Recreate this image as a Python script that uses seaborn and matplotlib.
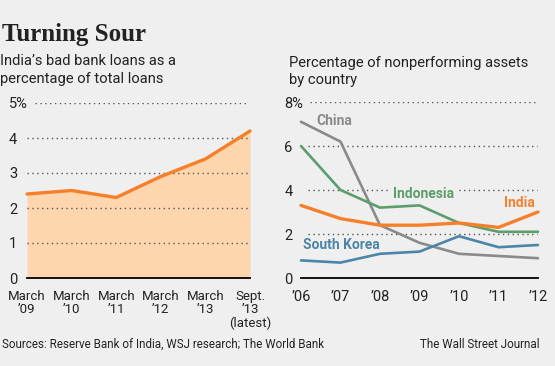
import pandas as pd
import matplotlib.pyplot as plt
import seaborn as sns

# --- Data ---
periods = ["March\n\u201909", "March\n\u201910", "March\n\u201911",
           "March\n\u201912", "March\n\u201913", "Sept.\n\u201913\n(latest)"]
india_bad_loans = [2.4, 2.5, 2.3, 2.9, 3.4, 4.2]

years = [2006, 2007, 2008, 2009, 2010, 2011, 2012]
year_labels = ["\u201906", "\u201907", "\u201908", "\u201909", "\u201910", "\u201911", "\u201912"]
china = [7.1, 6.2, 2.4, 1.6, 1.1, 1.0, 0.9]
indonesia = [6.0, 4.0, 3.2, 3.3, 2.5, 2.1, 2.1]
india = [3.3, 2.7, 2.4, 2.4, 2.5, 2.3, 3.0]
south_korea = [0.8, 0.7, 1.1, 1.2, 1.9, 1.4, 1.5]

left_ticks = [0, 1, 2, 3, 4, 5]
left_ticklabels = ["0", "1", "2", "3", "4", "5%"]
right_ticks = [0, 2, 4, 6, 8]
right_ticklabels = ["0", "2", "4", "6", "8%"]

# --- Styling ---
bg = "#efefef"
orange = "#f6802a"
peach = "#fdd6ae"
green = "#5b9e6c"
grey = "#8a8a8a"
blue = "#4b86a8"
palette = {"China": grey, "Indonesia": green, "India": orange, "South Korea": blue}

sns.set_theme(style="white")
fam = ["Roboto", "DejaVu Sans"]
plt.rcParams["font.family"] = fam
plt.rcParams["axes.facecolor"] = bg
plt.rcParams["figure.facecolor"] = bg
plt.rcParams["text.color"] = "#222222"

fig = plt.figure(figsize=(5.55, 3.66), dpi=100)
ax1 = fig.add_axes([27 / 555, 1 - 278 / 366, 223 / 555, 175 / 366])
ax2 = fig.add_axes([301 / 555, 1 - 278 / 366, 237 / 555, 176 / 366])

# --- Left chart: India's bad loans ---
left_df = pd.DataFrame({"pos": range(len(periods)), "pct": india_bad_loans})
ax1.fill_between(left_df["pos"], left_df["pct"], color=peach, lw=0, zorder=1)
sns.lineplot(data=left_df, x="pos", y="pct", color=orange, lw=2.4, ax=ax1,
             zorder=3, clip_on=False)
ax1.set_xlim(0, len(periods) - 1)
ax1.set_ylim(0, 5)
for v in left_ticks[1:]:
    ax1.axhline(v, xmin=0.036 if v == 5 else 0, xmax=0.99, color="#555555",
                lw=1, ls=(0, (1, 2.5)), zorder=2)
ax1.set_xticks(list(left_df["pos"]))
ax1.set_xticklabels(periods, fontsize=9.5, linespacing=1.05, color="#222222")
ax1.set_yticks(left_ticks)
ax1.set_yticklabels(left_ticklabels, fontsize=10.5, ha="left", color="#222222")
ax1.tick_params(axis="y", length=0, pad=13)
ax1.tick_params(axis="x", direction="out", length=6.5, width=1.2, color="black", pad=2)
ax1.set_xlabel("")
ax1.set_ylabel("")

# --- Right chart: nonperforming assets by country ---
right_df = pd.DataFrame({
    "year": years * 4,
    "pct": china + indonesia + india + south_korea,
    "country": ["China"] * 7 + ["Indonesia"] * 7 + ["India"] * 7 + ["South Korea"] * 7,
})
sns.lineplot(data=right_df[right_df["country"] != "India"], x="year", y="pct",
             hue="country", palette=palette, lw=1.9, ax=ax2, legend=False,
             zorder=3, clip_on=False)
sns.lineplot(data=right_df[right_df["country"] == "India"], x="year", y="pct",
             color=orange, lw=2.4, ax=ax2, zorder=4, clip_on=False)
ax2.set_xlim(years[0], years[-1])
ax2.set_ylim(0, 8)
for v in right_ticks[1:]:
    ax2.axhline(v, xmin=0.04 if v == 8 else 0.03, xmax=0.995, color="#555555",
                lw=1, ls=(0, (1, 2.5)), zorder=2)
ax2.set_xticks(years)
ax2.set_xticklabels(year_labels, fontsize=10.5, color="#222222")
ax2.set_yticks(right_ticks)
ax2.set_yticklabels(right_ticklabels, fontsize=10.5, ha="left", color="#222222")
ax2.tick_params(axis="y", length=0, pad=12)
ax2.tick_params(axis="x", direction="out", length=6.5, width=1.2, color="black", pad=2)
ax2.set_xlabel("")
ax2.set_ylabel("")

# series labels sit on a background box so they break the dotted gridlines
label_pos = {"China": (2006.4, 7.15), "Indonesia": (2008.33, 3.82),
             "India": (2011.15, 3.4), "South Korea": (2006.05, 1.5)}
for name, (lx, ly) in label_pos.items():
    ax2.text(lx, ly, name, color=palette[name], fontsize=10, fontweight="bold",
             ha="left", va="center", family=fam, zorder=2.5,
             bbox=dict(facecolor=bg, edgecolor="none", pad=1.5))

for ax in (ax1, ax2):
    for s in ("top", "right", "left"):
        ax.spines[s].set_visible(False)
    ax.spines["bottom"].set_color("black")
    ax.spines["bottom"].set_linewidth(1.3)
    ax.spines["bottom"].set_zorder(6)

# --- Titles and notes ---
fig.text(2 / 555, 1 - 41 / 366, "Turning Sour", fontsize=18, fontweight="bold",
         family=["Liberation Serif", "DejaVu Serif"], va="baseline", ha="left")
fig.text(0, 1 - 65 / 366, "India\u2019s bad bank loans as a", fontsize=10.6, va="baseline")
fig.text(0, 1 - 83 / 366, "percentage of total loans", fontsize=10.6, va="baseline")
fig.text(289 / 555, 1 - 67 / 366, "Percentage of nonperforming assets", fontsize=10.6, va="baseline")
fig.text(289 / 555, 1 - 84 / 366, "by country", fontsize=10.6, va="baseline")
fig.text(2 / 555, 1 - 348 / 366, "Sources: Reserve Bank of India, WSJ research; The World Bank",
         fontsize=8.4, va="baseline")
fig.text(539 / 555, 1 - 348 / 366, "The Wall Street Journal", fontsize=8.4,
         va="baseline", ha="right")

plt.savefig("out.png", dpi=100, facecolor=bg)
